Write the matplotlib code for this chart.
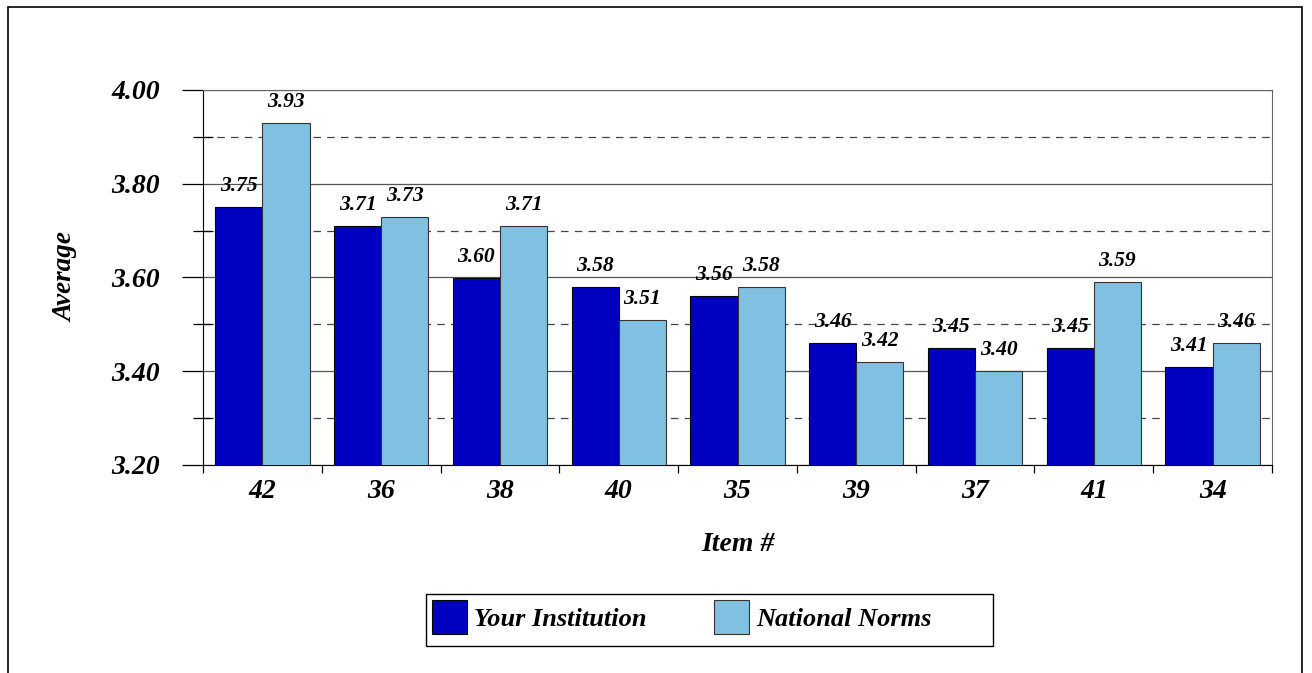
import matplotlib.pyplot as plt
import numpy as np
from matplotlib.patches import Rectangle

items = ["42", "36", "38", "40", "35", "39", "37", "41", "34"]
your_inst = [3.75, 3.71, 3.60, 3.58, 3.56, 3.46, 3.45, 3.45, 3.41]
national = [3.93, 3.73, 3.71, 3.51, 3.58, 3.42, 3.40, 3.59, 3.46]
series_names = ["Your Institution", "National Norms"]

dark = "#0000C0"
light = "#80C0E0"
font = {"family": "Liberation Serif", "weight": "bold", "style": "italic"}

W, H = 1312, 673
fig = plt.figure(figsize=(W / 100, H / 100), dpi=100)
ax = fig.add_axes([203 / W, 1 - 465 / H, 1069 / W, 375 / H])

# outer frame (bottom edge cut off in the original)
fig.patches.append(Rectangle((8 / W, -0.05), 1294 / W, 1.05 - 7 / H,
                             transform=fig.transFigure, fill=False,
                             edgecolor="black", linewidth=1.2))

x = np.arange(len(items))
w = 0.397
ax.bar(x - w / 2, your_inst, w, color=dark, edgecolor="black",
       linewidth=0.8, label=series_names[0], zorder=3)
ax.bar(x + w / 2, national, w, color=light, edgecolor="#333333",
       linewidth=0.8, label=series_names[1], zorder=3)

for xi, v in zip(x - w / 2, your_inst):
    ax.annotate("%.2f" % v, (xi, v), xytext=(0, 15), textcoords="offset points",
                ha="center", va="center", fontsize=15.5, zorder=4, **font)
for xi, v in zip(x + w / 2, national):
    ax.annotate("%.2f" % v, (xi, v), xytext=(0, 15), textcoords="offset points",
                ha="center", va="center", fontsize=15.5, zorder=4, **font)

ax.set_xlim(-0.5, len(items) - 0.5)
ax.set_ylim(3.2, 4.0)
ax.set_yticks(np.arange(3.2, 4.01, 0.2))
ax.set_yticks(np.arange(3.3, 4.0, 0.2), minor=True)
ax.set_yticklabels(["%.2f" % t for t in np.arange(3.2, 4.01, 0.2)], fontsize=20, **font)
ax.yaxis.grid(True, which="major", color="#555555", linewidth=0.9, zorder=0)
ax.yaxis.grid(True, which="minor", color="#444444", linewidth=0.9,
              linestyle=(0, (6, 5)), zorder=0)
ax.tick_params(axis="y", which="major", length=15, width=0.9, pad=16)
ax.tick_params(axis="y", which="minor", direction="inout", length=14, width=0.9)

ax.set_xticks(x)
ax.set_xticklabels(items, fontsize=20, **font)
ax.set_xticks(np.arange(-0.5, len(items), 1), minor=True)
ax.tick_params(axis="x", which="major", length=0, pad=10)
ax.tick_params(axis="x", which="minor", length=6, width=0.9)

for s in ["top", "right"]:
    ax.spines[s].set_color("#666666")
for s in ["left", "bottom"]:
    ax.spines[s].set_color("black")

ax.set_ylabel("Average", fontsize=19.5, labelpad=24, **font)
ax.set_xlabel("Item #", fontsize=20, labelpad=20, **font)

# legend box drawn separately so it can be wider than its contents
fig.patches.append(Rectangle((426 / W, 1 - 646 / H), 567 / W, 52 / H,
                             transform=fig.transFigure, fill=False,
                             edgecolor="black", linewidth=1.0))
leg = ax.legend(loc="center left", bbox_to_anchor=(432 / W, 1 - 617 / H),
                bbox_transform=fig.transFigure, ncol=2, frameon=False,
                handlelength=1.33, handleheight=1.6, handletextpad=0.27,
                columnspacing=2.55, borderpad=0, borderaxespad=0,
                prop={"family": "Liberation Serif", "weight": "bold",
                      "style": "italic", "size": 19})

fig.savefig("out.png", dpi=100)
